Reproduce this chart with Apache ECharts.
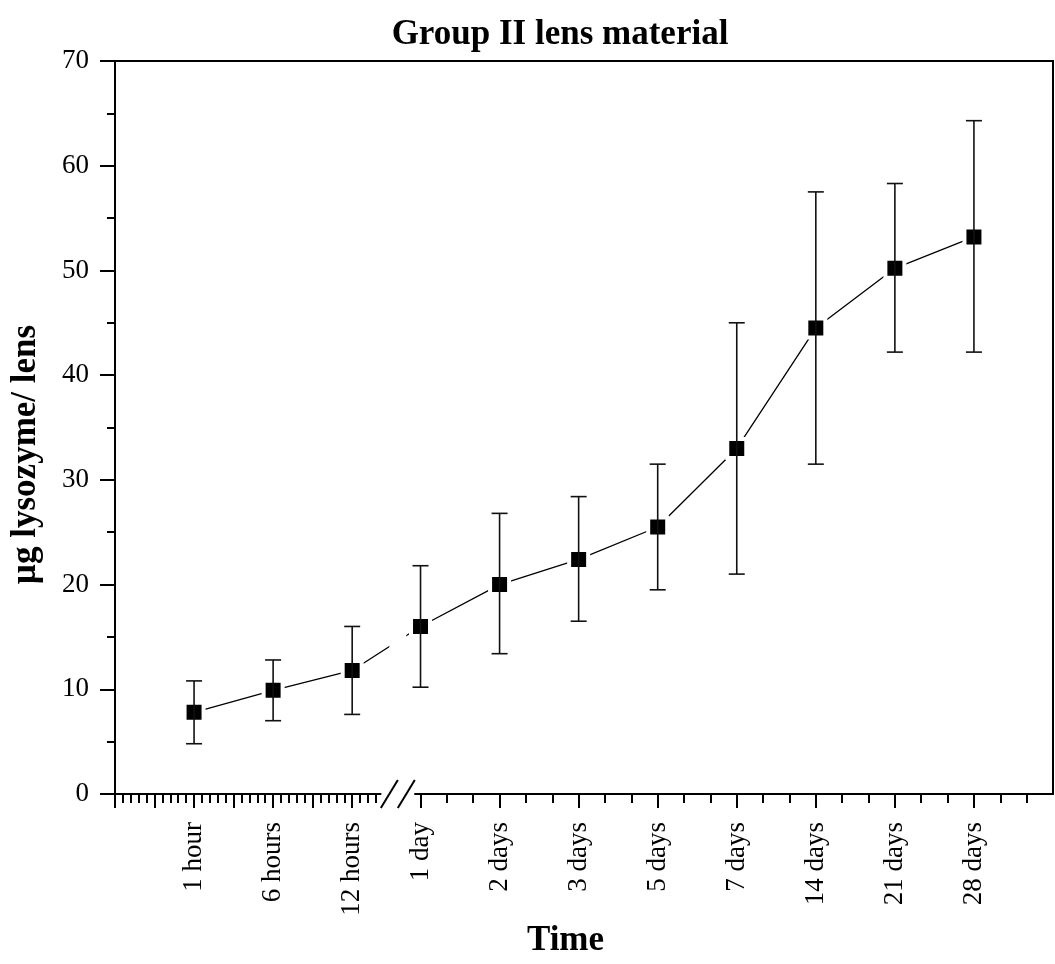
<!DOCTYPE html>
<html><head><meta charset="utf-8">
<script src="https://cdn.jsdelivr.net/npm/echarts@6/dist/echarts.min.js"></script>
<style>html,body{margin:0;padding:0;background:#fff}#c{width:1055px;height:964px}</style>
</head><body><div id="c"></div>
<script>
// ---- data ----
const categories = ['1 hour','6 hours','12 hours','1 day','2 days','3 days','5 days','7 days','14 days','21 days','28 days'];
const catPos = [1, 2, 3, 4, 5, 6, 7, 8, 9, 10, 11];
const meanValues  = [7.8, 9.9, 11.8, 16.0, 20.0, 22.4, 25.5, 33.0, 44.5, 50.2, 53.2];
const lowerValues = [4.8, 7.0, 7.6, 10.2, 13.4, 16.5, 19.5, 21.0, 31.5, 42.2, 42.2];
const upperValues = [10.8, 12.8, 16.0, 21.8, 26.8, 28.4, 31.5, 45.0, 57.5, 58.3, 64.3];
const xMajorTicks = [0, 0.5, 1, 1.5, 2, 2.5, 3, 4, 5, 6, 7, 8, 9, 10, 11];
const xBreak = { start: 3.47, end: 3.82, gap: 0.2144 };

// minor ticks: left part every 0.1, right part every 1/3
const xMinorTicks = [];
for (let i = 1; i <= 33; i++) { if (i % 5 !== 0) xMinorTicks.push(+(i / 10).toFixed(2)); }
for (let k = 4; k <= 11; k++) { xMinorTicks.push(k + 1/3, k + 2/3); }

const FONT = 'Liberation Serif';
const chart = echarts.init(document.getElementById('c'), null, { renderer: 'canvas' });

const meanData = catPos.map((x, i) => [x, meanValues[i]]);
const errData = catPos.map((x, i) => [x, lowerValues[i], upperValues[i]]);

const baseX = {
  type: 'value', min: 0, max: 12,
  breaks: [{ start: xBreak.start, end: xBreak.end, gap: xBreak.gap }],
  breakArea: { show: false },
  splitLine: { show: false }
};

const option = {
  backgroundColor: '#fff',
  animation: false,
  title: {
    text: 'Group II lens material', left: 555, top: 12, textAlign: 'center',
    textStyle: { fontFamily: FONT, fontWeight: 'bold', fontSize: 35, color: '#000' }
  },
  grid: { left: 114, right: 2, top: 61, bottom: 170, show: true, borderColor: '#000', borderWidth: 2, containLabel: false },
  xAxis: [
    Object.assign({}, baseX, {
      position: 'bottom',
      name: 'Time', nameLocation: 'middle', nameGap: 126,
      nameTextStyle: { fontFamily: FONT, fontWeight: 'bold', fontSize: 35, color: '#000', padding: [0, 37, 0, 0] },
      axisLine: { show: true, lineStyle: { color: '#000', width: 2 } },
      axisTick: { show: true, inside: false, length: 14, customValues: xMajorTicks, lineStyle: { color: '#000', width: 2 } },
      axisLabel: {
        show: true, customValues: catPos, rotate: 90, margin: 28,
        fontFamily: FONT, fontSize: 27, color: '#000',
        formatter: v => { const i = catPos.indexOf(v); return i >= 0 ? categories[i] : ''; }
      }
    }),
    Object.assign({}, baseX, {
      position: 'bottom',
      axisLine: { show: false },
      axisTick: { show: true, inside: false, length: 9, customValues: xMinorTicks, lineStyle: { color: '#000', width: 2 } },
      axisLabel: { show: false }
    })
  ],
  yAxis: {
    type: 'value', min: 0, max: 70, interval: 10,
    name: 'µg lysozyme/ lens', nameLocation: 'middle', nameGap: 72,
    nameTextStyle: { fontFamily: FONT, fontWeight: 'bold', fontSize: 35, color: '#000', padding: [0, 54, 0, 0] },
    axisLine: { show: true, lineStyle: { color: '#000', width: 2 } },
    axisTick: { show: true, inside: false, length: 15, lineStyle: { color: '#000', width: 2 } },
    minorTick: { show: true, splitNumber: 2, length: 8, lineStyle: { color: '#000', width: 2 } },
    splitLine: { show: false },
    minorSplitLine: { show: false },
    axisLabel: { fontFamily: FONT, fontSize: 27, color: '#000', margin: 26 }
  },
  series: [
    {
      name: 'mean line', type: 'line', data: meanData, xAxisIndex: 0, z: 2,
      showSymbol: false, symbol: 'none',
      lineStyle: { color: '#000', width: 1.3 }
    },
    {
      name: 'mean', type: 'scatter', data: meanData, xAxisIndex: 0, z: 3,
      symbol: 'rect', symbolSize: 19,
      itemStyle: { color: '#000', borderColor: '#fff', borderWidth: 4, opacity: 1 }
    },
    {
      name: 'error', type: 'custom', data: errData, xAxisIndex: 0, z: 4,
      renderItem: (params, api) => {
        const x = api.value(0);
        const lo = api.coord([x, api.value(1)]);
        const hi = api.coord([x, api.value(2)]);
        const hw = 8;
        const st = { stroke: '#111', lineWidth: 1.6 };
        return {
          type: 'group',
          children: [
            { type: 'line', shape: { x1: lo[0], y1: lo[1], x2: hi[0], y2: hi[1] }, style: st },
            { type: 'line', shape: { x1: lo[0] - hw, y1: lo[1], x2: lo[0] + hw, y2: lo[1] }, style: st },
            { type: 'line', shape: { x1: hi[0] - hw, y1: hi[1], x2: hi[0] + hw, y2: hi[1] }, style: st }
          ]
        };
      }
    },
    {
      name: 'break', type: 'custom', data: [[xBreak.start]], xAxisIndex: 0, z: 5, clip: false, silent: true,
      renderItem: (params, api) => {
        const a = api.coord([xBreak.start, 0]);
        const b = api.coord([xBreak.end, 0]);
        const t = api.coord([xBreak.start, 70]);
        const ln = { stroke: '#000', lineWidth: 2 };
        return {
          type: 'group',
          children: [
            { type: 'rect', shape: { x: a[0] - 8, y: a[1] - 3, width: b[0] - a[0] + 16, height: 6 }, style: { fill: '#fff' } },
            { type: 'rect', shape: { x: a[0], y: t[1] + 2, width: b[0] - a[0], height: a[1] - t[1] - 6 }, style: { fill: '#fff' } },
            { type: 'line', shape: { x1: a[0] - 8.5, y1: a[1] + 14, x2: a[0] + 8.5, y2: a[1] - 14 }, style: ln },
            { type: 'line', shape: { x1: b[0] - 8.5, y1: b[1] + 14, x2: b[0] + 8.5, y2: b[1] - 14 }, style: ln }
          ]
        };
      }
    }
  ]
};
chart.setOption(option);
</script>
</body></html>
